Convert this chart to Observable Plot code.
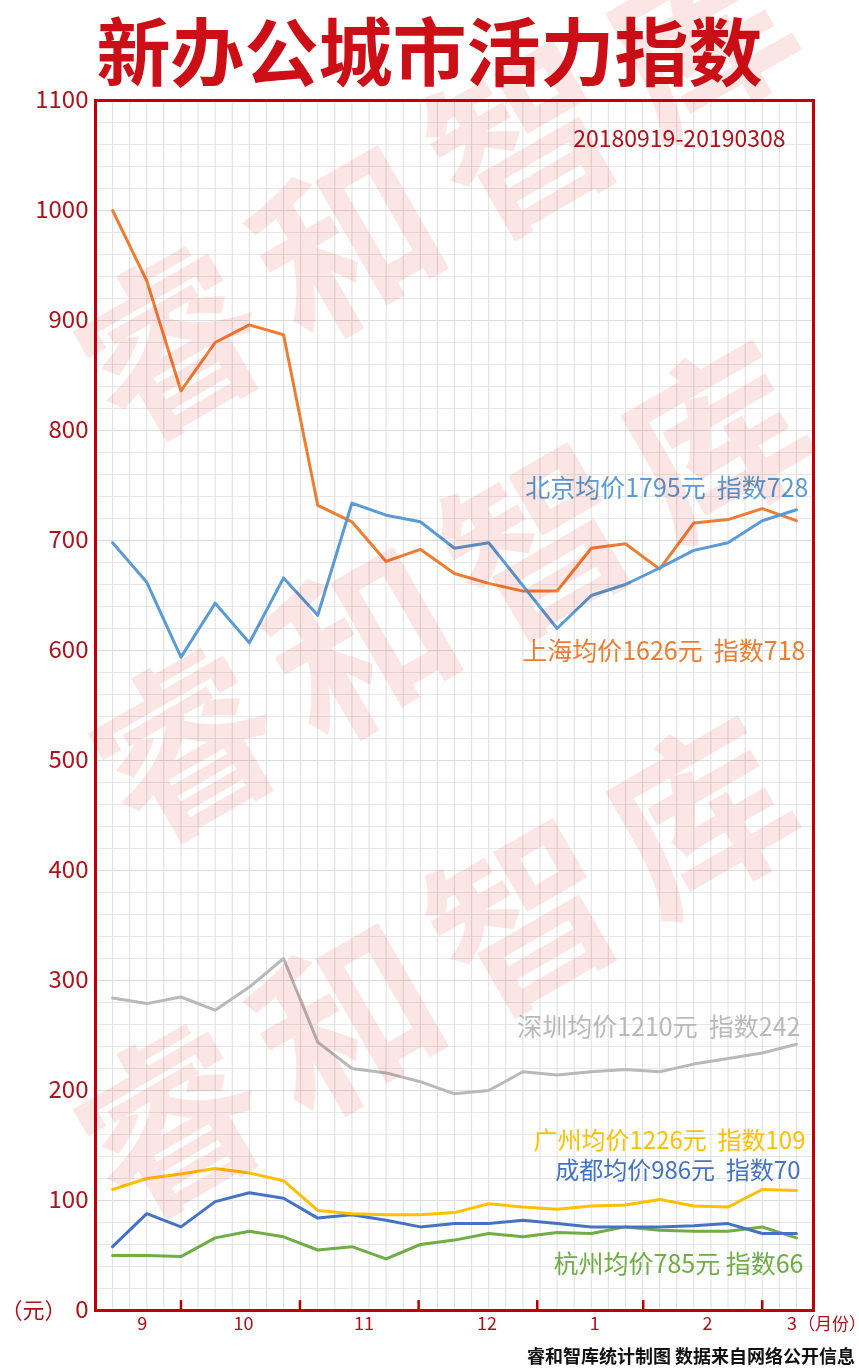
<!DOCTYPE html>
<html>
<head>
<meta charset="utf-8">
<script src="https://cdn.jsdelivr.net/npm/d3@7"></script>
<script src="https://cdn.jsdelivr.net/npm/@observablehq/plot@0.6"></script>
<style>
  body { margin: 0; background: #fff; width: 859px; height: 1371px; overflow: hidden; position: relative;
         font-family: "Noto Sans CJK SC", sans-serif; }
  #title { height: 96px; line-height: 96px; text-align: center; font-size: 74px; font-weight: bold;
           color: #cc0e16; white-space: nowrap; }
  #chart { height: 1244px; }
  #footer { height: 31px; line-height: 31px; text-align: right; padding-right: 4px; font-size: 18px;
            font-weight: bold; color: #111; white-space: nowrap; }
  #wm { position: absolute; left: 0; top: 0; width: 859px; height: 1371px; pointer-events: none;
        mix-blend-mode: multiply; overflow: hidden; }
  .wmrow { position: absolute; white-space: nowrap; font-size: 180px; line-height: 180px; letter-spacing: 24px;
           font-weight: bold; color: rgb(252, 229, 229); transform-origin: 90px 90px; transform: rotate(-30deg); }
</style>
</head>
<body>
<div id="title">新办公城市活力指数</div>
<div id="chart"></div>
<div id="footer">睿和智库统计制图 数据来自网络公开信息</div>
<div id="wm"></div>
<script>
// ---- data ----
const beijing   = [698, 662, 594, 643, 607, 666, 632, 734, 723, 717, 693, 698, 659, 620, 650, 660, 675, 691, 698, 718, 728];
const shanghai  = [1000, 936, 836, 880, 896, 887, 732, 717, 681, 692, 670, 661, 654, 654, 693, 697, 674, 716, 719, 729, 718];
const shenzhen  = [284, 279, 285, 273, 294, 320, 244, 220, 216, 208, 197, 200, 217, 214, 217, 219, 217, 224, 229, 234, 242];
const guangzhou = [110, 120, 124, 129, 125, 118, 91, 88, 87, 87, 89, 97, 94, 92, 95, 96, 101, 95, 94, 110, 109];
const chengdu   = [58, 88, 76, 99, 107, 102, 84, 87, 82, 76, 79, 79, 82, 79, 76, 76, 76, 77, 79, 70, 70];
const hangzhou  = [50, 50, 49, 66, 72, 67, 55, 58, 47, 60, 64, 70, 67, 71, 70, 76, 73, 72, 72, 76, 66];

const seriesLabels = [
  "北京均价1795元  指数728",
  "上海均价1626元  指数718",
  "深圳均价1210元  指数242",
  "广州均价1226元  指数109",
  "成都均价986元  指数70",
  "杭州均价785元 指数66"
];

const yTicks = [0, 100, 200, 300, 400, 500, 600, 700, 800, 900, 1000, 1100];
const monthLabels = ["9", "10", "11", "12", "1", "2", "3"];
const monthLabelPos = [0.87, 3.83, 7.35, 10.95, 14.1, 17.4, 19.87];   // in observation-index units
const monthBounds = [2.0, 5.48, 8.95, 12.42, 15.52, 19.0];
const subtitle = "20180919-20190308";
const yUnit = "（元）";
const xUnit = "（月份）";
const watermark = "睿和智库";

// ---- styles ----
const axisRed = "#ad1119";
const series = [
  {values: shenzhen,  label: seriesLabels[2], color: "#b9b9b9", dx: -13, dy: -16, size: 25},
  {values: hangzhou,  label: seriesLabels[5], color: "#70ad47", dx: -10, dy: 27,  size: 25},
  {values: chengdu,   label: seriesLabels[4], color: "#4472c4", dx: -13, dy: -62, size: 24},
  {values: guangzhou, label: seriesLabels[3], color: "#ffc000", dx: -8,  dy: -49, size: 24},
  {values: shanghai,  label: seriesLabels[1], color: "#ed7d31", dx: -8,  dy: 131, size: 25},
  {values: beijing,   label: seriesLabels[0], color: "#5b9bd5", dx: -5,  dy: -21, size: 25}
];

const lineMarks = series.map(s =>
  Plot.line(s.values.map((v, i) => ({i, v})), {x: "i", y: "v", stroke: s.color, strokeWidth: 3})
);
const labelMarks = series.map(s =>
  Plot.text([s.label], {
    x: () => 20.5, y: () => s.values[s.values.length - 1], text: d => d,
    dx: s.dx, dy: s.dy, textAnchor: "end", fontSize: s.size, fill: s.color
  })
);

const chart = Plot.plot({
  width: 859,
  height: 1244,
  marginTop: 4,
  marginBottom: 30,
  marginLeft: 95,
  marginRight: 46,
  x: {type: "linear", domain: [-0.5, 20.5], axis: null},
  y: {type: "linear", domain: [0, 1100], axis: null},
  style: {background: "transparent", fontFamily: '"Noto Sans CJK SC", sans-serif', overflow: "visible"},
  marks: [
    Plot.ruleY(d3.range(0, 1101, 20).filter(d => d % 100 !== 0), {stroke: "#e9e9e9", strokeWidth: 1}),
    Plot.ruleY(yTicks, {stroke: "#dcdcdc", strokeWidth: 1}),
    Plot.ruleX(d3.range(-0.5, 20.51, 0.5), {stroke: "#dedede", strokeWidth: 1}),
    ...lineMarks,
    Plot.frame({stroke: "#c00000", strokeWidth: 3}),
    Plot.ruleX(monthBounds, {y1: 0, y2: 9, stroke: "#b00000", strokeWidth: 2.5}),
    Plot.text(yTicks, {x: () => -0.5, y: d => d, text: d => String(d), dx: -7, textAnchor: "end",
                       fontSize: 24, fill: axisRed}),
    Plot.text([yUnit], {x: () => -0.5, y: () => 0, text: d => d, dx: -29, textAnchor: "end",
                        fontSize: 22, fill: axisRed}),
    Plot.text(monthLabels, {x: (d, i) => monthLabelPos[i], y: () => 0, text: d => d, dy: 14,
                            fontSize: 18, fill: axisRed}),
    Plot.text([xUnit], {x: () => monthLabelPos[monthLabelPos.length - 1], y: () => 0, text: d => d,
                        dx: 6, dy: 14, textAnchor: "start", fontSize: 17, fill: axisRed}),
    Plot.text([subtitle], {frameAnchor: "top-right", text: d => d, dx: -28, dy: 30, textAnchor: "end",
                           fontSize: 23, fill: axisRed}),
    ...labelMarks
  ]
});
document.getElementById("chart").appendChild(chart);

// ---- watermark (decorative) ----
const wmRows = [[165, 335], [180, 737], [165, 1113]];
const wm = document.getElementById("wm");
wmRows.forEach(([cx, cy]) => {
  const d = document.createElement("div");
  d.className = "wmrow";
  d.textContent = watermark;
  d.style.left = (cx - 90) + "px";
  d.style.top = (cy - 90) + "px";
  wm.appendChild(d);
});
</script>
</body>
</html>
